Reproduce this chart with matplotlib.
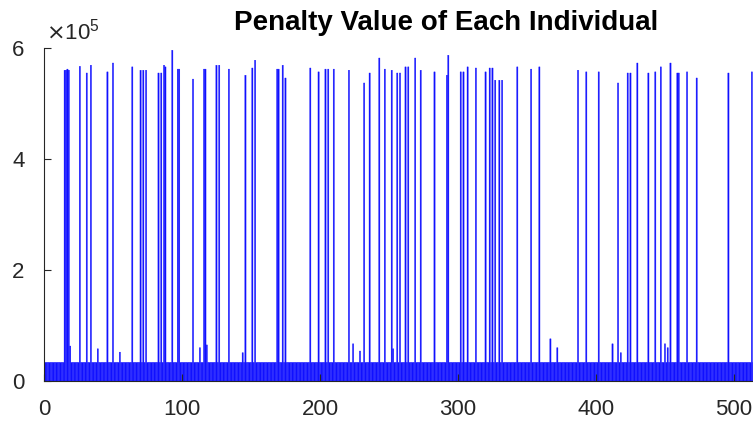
import numpy as np
import matplotlib
matplotlib.use("Agg")
import matplotlib.pyplot as plt
from matplotlib.ticker import FuncFormatter

plt.rcParams['font.family'] = ['Liberation Sans', 'DejaVu Sans']

# population of individuals and their penalty values
n_individuals = 520
base_penalty = 33500

# individuals with a large penalty (index, value)
spike_idx = [15, 16, 17, 18, 26, 31, 34, 46, 50, 64, 70, 72, 74, 83, 85, 87, 88,
             93, 97, 98, 108, 116, 117, 125, 127, 134, 146, 151, 153, 169, 170,
             173, 175, 193, 199, 204, 206, 210, 221, 232, 236, 243, 247, 252,
             256, 258, 262, 264, 269, 273, 283, 292, 293, 302, 304, 307, 313,
             320, 323, 325, 327, 330, 332, 343, 353, 359, 387, 393, 402, 416,
             423, 425, 430, 438, 443, 447, 454, 459, 460, 466, 473, 496, 513]
spike_val = [560e3, 560e3, 562e3, 560e3, 567e3, 555e3, 569e3, 557e3, 573e3,
             566e3, 560e3, 560e3, 560e3, 555e3, 555e3, 569e3, 566e3, 596e3,
             562e3, 562e3, 544e3, 562e3, 562e3, 569e3, 569e3, 562e3, 551e3,
             564e3, 578e3, 562e3, 562e3, 569e3, 546e3, 564e3, 557e3, 562e3,
             562e3, 562e3, 560e3, 537e3, 555e3, 582e3, 562e3, 560e3, 555e3,
             555e3, 566e3, 566e3, 582e3, 560e3, 557e3, 551e3, 587e3, 557e3,
             557e3, 566e3, 564e3, 557e3, 564e3, 564e3, 542e3, 542e3, 542e3,
             566e3, 562e3, 566e3, 560e3, 557e3, 557e3, 537e3, 555e3, 555e3,
             573e3, 555e3, 557e3, 566e3, 573e3, 555e3, 555e3, 557e3, 546e3,
             555e3, 557e3]

# individuals with a medium penalty
mid_idx = [19, 39, 55, 113, 118, 144, 224, 229, 253, 367, 372, 412, 418, 450, 452]
mid_val = [63e3, 58e3, 52e3, 60e3, 65e3, 51e3, 67e3, 54e3, 58e3, 76e3, 60e3,
           67e3, 51e3, 67e3, 60e3]

individuals = np.arange(1, n_individuals + 1)
penalty = np.full(n_individuals, base_penalty, dtype=float)
penalty[np.array(mid_idx) - 1] = mid_val
penalty[np.array(spike_idx) - 1] = spike_val

fig = plt.figure(figsize=(7.53, 4.23), dpi=100)
ax = fig.add_axes([0.0584, 0.0993, 0.9416, 0.7872])

bars = ax.bar(individuals, penalty, width=0.9, color='#1010ff',
              edgecolor='#1010ff', linewidth=0.25)
for b in bars:
    b.set_snap(False)
    b.set_antialiased(True)

ax.set_xlim(0, 513.8)
ax.set_ylim(0, 6e5)
ax.set_xticks([0, 100, 200, 300, 400, 500])
ax.set_yticks([0, 2e5, 4e5, 6e5])
ax.yaxis.set_major_formatter(FuncFormatter(lambda v, p: '%g' % (v / 1e5)))

grey = '#262626'
for side in ['top', 'right']:
    ax.spines[side].set_visible(False)
for side in ['left', 'bottom']:
    ax.spines[side].set_color(grey)
    ax.spines[side].set_linewidth(0.8)
ax.tick_params(direction='in', length=5, width=0.8, colors=grey,
               labelsize=16)
ax.tick_params(axis='x', pad=13)
ax.tick_params(axis='y', pad=14)

ax.text(0.003, 1.012, r'$\times\mathregular{10^{5}}$', transform=ax.transAxes,
        fontsize=16, color=grey, ha='left', va='bottom')
ax.set_title('Penalty Value of Each Individual', fontsize=20,
             fontweight='bold', color='black', pad=13, x=0.567)

fig.savefig('out.png', dpi=100)
